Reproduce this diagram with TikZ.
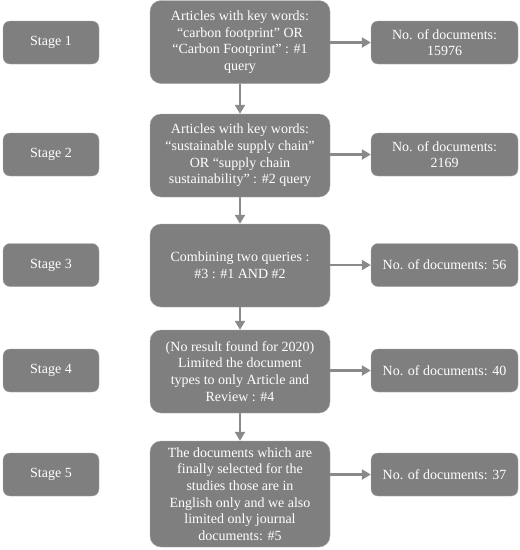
\documentclass[tikz,border=0pt]{standalone}
\usepackage{tikz}
\usepackage{xcolor}
\usepackage{fontspec}
\setmainfont{Liberation Serif}
\usetikzlibrary{arrows.meta}
\definecolor{boxfill}{HTML}{7f7f7f}
\definecolor{boxline}{HTML}{a8a8a8}
\definecolor{arrowgray}{HTML}{8a8a8a}

\begin{document}
\begin{tikzpicture}[
    stagebox/.style = {draw = boxline, fill = boxfill, rounded corners = 7pt, text = white,
        minimum width = 96pt, minimum height = 43pt, inner sep = 0pt,
        font = \fontsize{14}{16.7}\selectfont},
    querybox/.style = {draw = boxline, fill = boxfill, rounded corners = 11pt, text = white,
        minimum width = 180pt, minimum height = 83pt, inner sep = 0pt, align = center,
        font = \fontsize{14}{16.7}\selectfont},
    countbox/.style = {draw = boxline, fill = boxfill, rounded corners = 7pt, text = white,
        minimum width = 147pt, minimum height = 43pt, inner sep = 0pt, align = center,
        font = \fontsize{14}{16.7}\selectfont},
    flow/.style = {draw = arrowgray, line width = 2.6pt, -{Triangle[length = 9pt, width = 10pt]}}
    ]
        \useasboundingbox (0pt, 0pt) rectangle (520pt, -550pt);

        % Stages
        \node [stagebox] (s1) at (51pt, -42.5pt) {Stage 1};
        \node [stagebox] (s2) at (51pt, -154.5pt) {Stage 2};
        \node [stagebox] (s3) at (51pt, -265pt) {Stage 3};
        \node [stagebox] (s4) at (51pt, -370.5pt) {Stage 4};
        \node [stagebox] (s5) at (51pt, -474.5pt) {Stage 5};

        % Queries
        \node [querybox] (q1) at (240pt, -42pt) {Articles with key words:\\ “carbon footprint” OR\\ “Carbon Footprint” : \#1\\ query};
        \node [querybox] (q2) at (240pt, -155.5pt) {Articles with key words:\\ “sustainable supply chain”\\ OR “supply chain\\ sustainability” : \#2 query};
        \node [querybox] (q3) at (240pt, -265.5pt) {Combining two queries :\\ \#3 : \#1 AND \#2};
        \node [querybox] (q4) at (240pt, -371.5pt) {(No result found for 2020)\\ Limited the document\\ types to only Article and\\ Review : \#4};
        \node [querybox, minimum height = 106pt] (q5) at (240pt, -494pt) {The documents which are\\ finally selected for the\\ studies those are in\\ English only and we also\\ limited only journal\\ documents: \#5};

        % Counts
        \node [countbox] (r1) at (444.5pt, -42.5pt) {No. of documents:\\ 15976};
        \node [countbox] (r2) at (444.5pt, -154.5pt) {No. of documents:\\ 2169};
        \node [countbox] (r3) at (444.5pt, -265pt) {No. of documents: 56};
        \node [countbox] (r4) at (444.5pt, -370.5pt) {No. of documents: 40};
        \node [countbox] (r5) at (444.5pt, -474.5pt) {No. of documents: 37};

        % Arrows
        \draw [flow] (q1) -- (q2);
        \draw [flow] (q2) -- (q3);
        \draw [flow] (q3) -- (q4);
        \draw [flow] (q4) -- (q5);
        \draw [flow] (q1.east |- r1.west) -- (r1.west);
        \draw [flow] (q2.east |- r2.west) -- (r2.west);
        \draw [flow] (q3.east |- r3.west) -- (r3.west);
        \draw [flow] (q4.east |- r4.west) -- (r4.west);
        \draw [flow] (q5.east |- r5.west) -- (r5.west);

    \end{tikzpicture}
\end{document}
